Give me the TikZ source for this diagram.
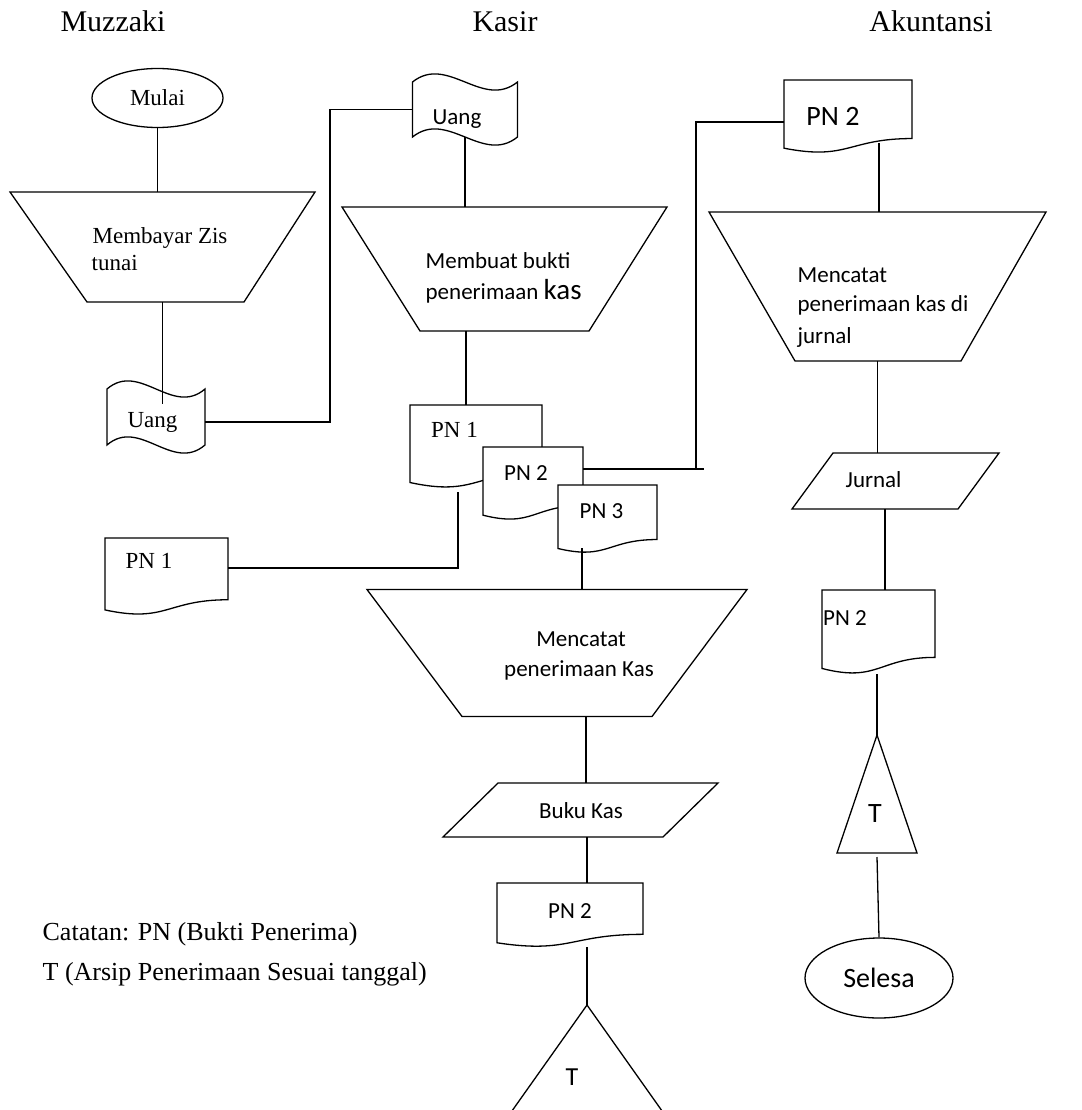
\documentclass[tikz,border=0pt]{standalone}
\usepackage{fontspec}
\setmainfont{Liberation Serif}
\newfontfamily\calib{Carlito}
\usetikzlibrary{shapes.geometric}
\newcommand\tapeshape[3]{%
  \draw[fill=white] (#1.north west)
    .. controls ([xshift={#2/3},yshift={#3}]#1.north west) and ([xshift={-#2/3},yshift={-#3}]#1.north east) .. (#1.north east)
    -- (#1.south east)
    .. controls ([xshift={-#2/3},yshift={-#3}]#1.south east) and ([xshift={#2/3},yshift={#3}]#1.south west) .. (#1.south west)
    -- cycle;}
\newcommand\docshape[3]{%
  \draw[fill=white] (#1.north west) -- (#1.north east) -- ([yshift={0.198*#3}]#1.south east)
    .. controls ([xshift={-0.5*#2},yshift={0.198*#3}]#1.south east) and ([xshift={0.5*#2},yshift={-0.107*#3}]#1.south west)
    .. ([yshift={0.066*#3}]#1.south west) -- cycle;}
\newcommand\trapshape[3]{%
  \draw (#1.north west) -- (#1.north east) -- ([xshift={-#3}]#1.south east) -- ([xshift={#2}]#1.south west) -- cycle;}
\newcommand\parashape[2]{%
  \draw (#1.south west) -- ([xshift={#2}]#1.north west) -- (#1.north east) -- ([xshift={-#2}]#1.south east) -- cycle;}
\newcommand\trishape[1]{\draw (#1.north) -- (#1.south east) -- (#1.south west) -- cycle;}
\begin{document}
\begin{tikzpicture}[x=1pt,y=-1pt,line width=1.3pt,
  tm/.style={font=\fontsize{23}{28}\selectfont, inner sep=0pt},
  cb/.style={font=\calib\fontsize{23}{28}\selectfont, inner sep=0pt},
  cbl/.style={font=\calib\fontsize{28}{32}\selectfont, inner sep=0pt},
  hd/.style={font=\fontsize{30}{36}\selectfont, inner sep=0pt},
  nt/.style={font=\fontsize{26}{30}\selectfont, inner sep=0pt},
  shp/.style={inner sep=0pt, outer sep=0pt}]
\useasboundingbox (0,0) rectangle (1081,1110);
\clip (0,0) rectangle (1081,1110);
\fill[white] (0,0) rectangle (1081,1110);

% headers
\node[hd, anchor=base] (h1) at (113,32) {Muzzaki};
\node[hd, anchor=base] (h2) at (505,32) {Kasir};
\node[hd, anchor=base] (h3) at (931,32) {Akuntansi};

% Muzzaki column
\node[draw, ellipse, tm, minimum width=131pt, minimum height=59pt] (mulai) at (157.5,98) {Mulai};
\node[shp, minimum width=305pt, minimum height=110pt] (m1) at (162.5,247) {};
\trapshape{m1}{77}{71}
\node[tm, anchor=base west] (m1a) at (92,243) {Membayar Zis};
\node[tm, anchor=base west] (m1b) at (91,270) {tunai};
\node[shp, minimum width=98pt, minimum height=56pt] (u1) at (156,417) {};
\tapeshape{u1}{98}{28}
\node[tm, anchor=base] (u1t) at (152.5,427) {Uang};
\node[shp, minimum width=123pt, minimum height=77pt] (lp1) at (166.5,576.5) {};
\docshape{lp1}{123}{77}
\node[tm, anchor=base] (lp1t) at (149,568) {PN 1};

% Kasir column
\node[shp, minimum width=105pt, minimum height=55pt] (u2) at (465,109.5) {};
\tapeshape{u2}{105}{28}
\node[cb, anchor=base] (u2t) at (457,125) {Uang};
\node[shp, minimum width=325pt, minimum height=124pt] (k1) at (504.5,269) {};
\trapshape{k1}{78}{78}
\node[cb, anchor=base west] (k1a) at (425,268) {Membuat bukti};
\node[cb, anchor=base west] (k1b) at (425,299) {penerimaan {\fontsize{29}{34}\selectfont kas}};
\node[shp, minimum width=132pt, minimum height=83pt] (pn1) at (476,446.5) {};
\docshape{pn1}{132}{83}
\node[tm, anchor=base] (pn1t) at (454.5,437) {PN 1};
\node[shp, minimum width=100pt, minimum height=73pt] (pn2) at (533,483.5) {};
\docshape{pn2}{100}{73}
\node[cb, anchor=base] (pn2t) at (526,480) {PN 2};
\node[shp, minimum width=99pt, minimum height=68pt] (pn3) at (607.5,519) {};
\docshape{pn3}{99}{68}
\node[cb, anchor=base] (pn3t) at (601.5,518) {PN 3};
\node[shp, minimum width=380pt, minimum height=127pt] (k2) at (557,653) {};
\trapshape{k2}{95}{95}
\node[cb, anchor=base] (k2a) at (581,646) {Mencatat};
\node[cb, anchor=base] (k2b) at (579,676) {penerimaan Kas};
\node[shp, minimum width=275pt, minimum height=54pt] (bk) at (580.5,810) {};
\parashape{bk}{55}
\node[cb, anchor=base] (bkt) at (581,818) {Buku Kas};
\node[shp, minimum width=146pt, minimum height=64pt] (pk2) at (570,915) {};
\docshape{pk2}{146}{64}
\node[cb, anchor=base] (pk2t) at (570,918) {PN 2};
\node[shp, minimum width=170pt, minimum height=120pt] (t1) at (587,1065) {};
\trishape{t1}
\node[font=\calib\fontsize{26}{30}\selectfont, inner sep=0pt, anchor=base] (t1t) at (572,1085) {T};

% Akuntansi column
\node[shp, minimum width=128pt, minimum height=73pt] (pa1) at (848,116.5) {};
\docshape{pa1}{128}{73}
\node[cbl, anchor=base] (pa1t) at (833,126) {PN 2};
\node[shp, minimum width=337pt, minimum height=149pt] (a1) at (877.5,286.5) {};
\trapshape{a1}{86}{85}
\node[cb, anchor=base west] (a1a) at (797,282) {Mencatat};
\node[cb, anchor=base west] (a1b) at (797,311) {penerimaan kas di};
\node[cb, anchor=base west] (a1c) at (797,343) {jurnal};
\node[shp, minimum width=207pt, minimum height=56pt] (j1) at (895.5,481) {};
\parashape{j1}{41}
\node[cb, anchor=base west] (j1t) at (845,487) {Jurnal};
\node[shp, minimum width=113pt, minimum height=84pt] (pa2) at (878.5,632) {};
\docshape{pa2}{113}{84}
\node[cb, anchor=base] (pa2t) at (845,625) {PN 2};
\node[shp, minimum width=80pt, minimum height=118pt] (t2) at (877,794) {};
\trishape{t2}
\node[cbl, anchor=base] (t2t) at (875,822) {T};
\node[draw, ellipse, cbl, minimum width=148pt, minimum height=80pt] (sel) at (879,978) {Selesa};

% note
\node[nt, anchor=base west] (n1) at (42,940) {Catatan: PN (Bukti Penerima)};
\node[nt, anchor=base west] (n2) at (42,980) {T (Arsip Penerimaan Sesuai tanggal)};

% connectors
\draw (mulai.south) -- (mulai.south |- m1.north);
\coordinate (u1in) at ([yshift=-15]u1.north);
\draw (m1.south) -- (m1.south |- u1in);
\coordinate (c1) at (330,0);
\coordinate (u1out) at ([yshift=-5]u1.east);
\draw (u1out) -| (c1 |- u2.west) -- (u2.west);
\draw (u2.south) -- (u2.south |- k1.north);
\coordinate (k1out) at ([xshift=-38.5]k1.south);
\draw (k1out) -- (k1out |- pn1.north);
\coordinate (pn1out) at ([xshift=-18,yshift=-4]pn1.south);
\coordinate (lp1in) at ([yshift=8.5]lp1.east);
\draw (pn1out) |- (lp1in);
\coordinate (pn2out) at ([yshift=14.5]pn2.east);
\coordinate (pa1in) at ([yshift=-5.5]pa1.west);
\coordinate (c2) at (696,0);
\coordinate (c2end) at (704,0);
\draw (pn2out) -- (c2end |- pn2out);
\draw (c2 |- pn2out) -- (c2 |- pa1in) -- (pa1in);
\coordinate (pn3out) at ([xshift=-25.5,yshift=5]pn3.south);
\draw (pn3out) -- (pn3out |- k2.north);
\coordinate (k2out) at ([xshift=29]k2.south);
\draw (k2out) -- (k2out |- bk.north);
\coordinate (bkout) at ([xshift=6.5]bk.south);
\draw (bkout) -- (bkout |- pk2.north);
\draw (t1.north |- pk2.south) -- (t1.north);
\coordinate (pa1out) at ([xshift=31,yshift=10]pa1.south);
\draw (pa1out) -- (pa1out |- a1.north);
\draw (a1.south) -- (a1.south |- j1.north);
\coordinate (j1out) at ([xshift=-10.5]j1.south);
\draw (j1out) -- (j1out |- pa2.north);
\draw (t2.north |- pa2.south) -- (t2.north);
\draw ([yshift=-4]t2.south) -- (sel.north);
\end{tikzpicture}
\end{document}
